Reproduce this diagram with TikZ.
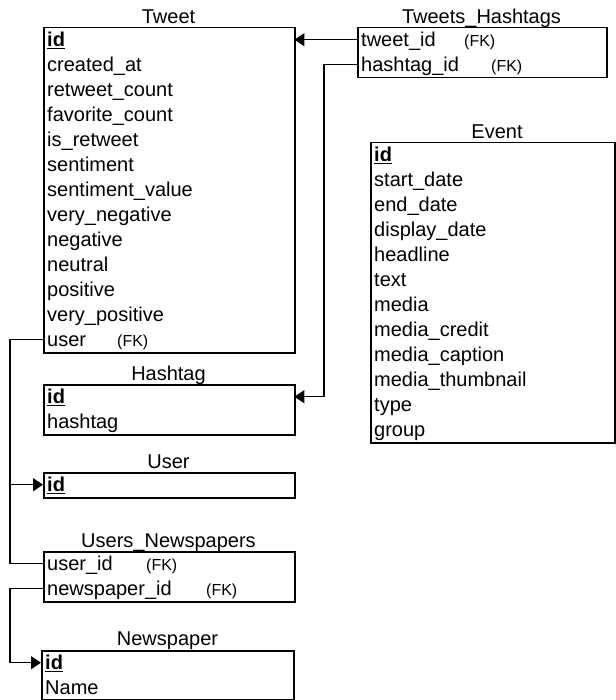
\documentclass[tikz,border=0pt]{standalone}
\usepackage{fontspec}
\setmainfont{Liberation Sans}
\usetikzlibrary{arrows.meta}
\tikzset{
  tbl/.style={draw, line width=1.5pt, rectangle, inner sep=0pt, anchor=north west},
  rowbox/.style={anchor=north west, inner xsep=4pt, inner ysep=2.5pt,
     text height=16.5pt, text depth=3.5pt, text width=#1, align=left,
     font=\fontsize{20}{24}\selectfont},
  ttl/.style={anchor=base, inner sep=0pt, font=\fontsize{20}{24}\selectfont},
  fk/.style={anchor=base west, inner sep=0pt, font=\fontsize{16}{19}\selectfont},
  conn/.style={line width=1.5pt},
  arr/.style={-{Triangle[length=10pt,width=13pt]}},
}
\newcommand{\pk}{\underline{\textbf{id}}}
\begin{document}
\begin{tikzpicture}[x=1pt,y=-1pt]
\fill[white] (0,0) rectangle (615,700);
\useasboundingbox (0,0) rectangle (615,700);

% ---- Tweet ----
\node[tbl, minimum width=251pt, minimum height=325pt] (tweet) at (43,27) {};
\node[ttl] (tweet-t) at (168.5,24) {Tweet};
\node[rowbox=243pt] (tw-id)   at (43,27)  {\pk};
\node[rowbox=243pt] (tw-c)    at (43,52)  {created\_at};
\node[rowbox=243pt] (tw-rc)   at (43,77)  {retweet\_count};
\node[rowbox=243pt] (tw-fc)   at (43,102) {favorite\_count};
\node[rowbox=243pt] (tw-ir)   at (43,127) {is\_retweet};
\node[rowbox=243pt] (tw-s)    at (43,152) {sentiment};
\node[rowbox=243pt] (tw-sv)   at (43,177) {sentiment\_value};
\node[rowbox=243pt] (tw-vn)   at (43,202) {very\_negative};
\node[rowbox=243pt] (tw-n)    at (43,227) {negative};
\node[rowbox=243pt] (tw-ne)   at (43,252) {neutral};
\node[rowbox=243pt] (tw-p)    at (43,277) {positive};
\node[rowbox=243pt] (tw-vp)   at (43,302) {very\_positive};
\node[rowbox=243pt] (tw-user) at (43,327) {user};
\node[fk] (tw-user-fk) at ([xshift=74pt,yshift=-6.5pt]tw-user.west) {(FK)};

% ---- Tweets_Hashtags ----
\node[tbl, minimum width=249pt, minimum height=50pt] (th) at (357,27) {};
\node[ttl] (th-t) at (481.5,24) {Tweets\_Hashtags};
\node[rowbox=241pt] (th-tweet) at (357,27) {tweet\_id};
\node[rowbox=241pt] (th-hash)  at (357,52) {hashtag\_id};
\node[fk] (th-tweet-fk) at ([xshift=107pt,yshift=-6.5pt]th-tweet.west) {(FK)};
\node[fk] (th-hash-fk)  at ([xshift=134pt,yshift=-6.5pt]th-hash.west) {(FK)};

% ---- Event ----
\node[tbl, minimum width=244pt, minimum height=300pt] (ev) at (370,142) {};
\node[ttl] (ev-t) at (497,138.5) {Event};
\node[rowbox=236pt] (ev-id)  at (370,142) {\pk};
\node[rowbox=236pt] (ev-sd)  at (370,167) {start\_date};
\node[rowbox=236pt] (ev-ed)  at (370,192) {end\_date};
\node[rowbox=236pt] (ev-dd)  at (370,217) {display\_date};
\node[rowbox=236pt] (ev-hl)  at (370,242) {headline};
\node[rowbox=236pt] (ev-tx)  at (370,267) {text};
\node[rowbox=236pt] (ev-m)   at (370,292) {media};
\node[rowbox=236pt] (ev-mc)  at (370,317) {media\_credit};
\node[rowbox=236pt] (ev-mca) at (370,342) {media\_caption};
\node[rowbox=236pt] (ev-mt)  at (370,367) {media\_thumbnail};
\node[rowbox=236pt] (ev-ty)  at (370,392) {type};
\node[rowbox=236pt] (ev-g)   at (370,417) {group};

% ---- Hashtag ----
\node[tbl, minimum width=251pt, minimum height=50pt] (ht) at (43,384) {};
\node[ttl] (ht-t) at (168.5,380.5) {Hashtag};
\node[rowbox=243pt] (ht-id) at (43,384) {\pk};
\node[rowbox=243pt] (ht-h)  at (43,409) {hashtag};

% ---- User ----
\node[tbl, minimum width=251pt, minimum height=25pt] (us) at (43,472) {};
\node[ttl] (us-t) at (168.5,468.5) {User};
\node[rowbox=243pt] (us-id) at (43,472) {\pk};

% ---- Users_Newspapers ----
\node[tbl, minimum width=251pt, minimum height=50pt] (un) at (43,551) {};
\node[ttl] (un-t) at (168.5,547) {Users\_Newspapers};
\node[rowbox=243pt] (un-user) at (43,551) {user\_id};
\node[rowbox=243pt] (un-news) at (43,576) {newspaper\_id};
\node[fk] (un-user-fk) at ([xshift=103pt,yshift=-6.5pt]un-user.west) {(FK)};
\node[fk] (un-news-fk) at ([xshift=163pt,yshift=-6.5pt]un-news.west) {(FK)};

% ---- Newspaper ----
\node[tbl, minimum width=252pt, minimum height=49pt] (np) at (41,650) {};
\node[ttl] (np-t) at (167.5,645.5) {Newspaper};
\node[rowbox=244pt] (np-id)   at (41,650) {\pk};
\node[rowbox=244pt] (np-name) at (41,675) {Name};

% ---- connectors ----
\draw[conn,arr] (th-tweet.west) -- (tw-id.east);
\draw[conn,arr] (th-hash.west) -- ++(-33,0) |- (ht-id.east);
\draw[conn,arr] (tw-user.west) -- ++(-33,0) |- (us-id.west);
\draw[conn] (un-user.west) -- ++(-33,0) -- ([xshift=-33pt]us-id.west);
\draw[conn,arr] (un-news.west) -- ++(-33,0) |- (np-id.west);
\end{tikzpicture}
\end{document}
